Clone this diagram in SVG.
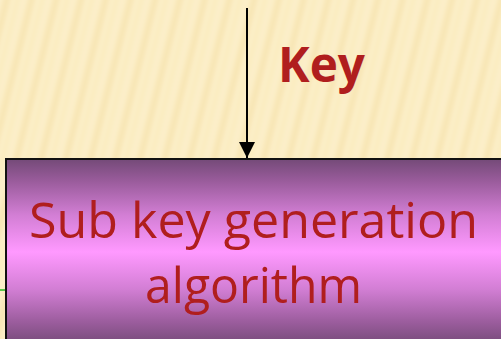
<svg xmlns="http://www.w3.org/2000/svg" width="501" height="339" viewBox="0 0 501 339">
  <style>
    .label { font-family: "Open Sans", "DejaVu Sans", sans-serif; fill: #b01e1e; }
    .key { font-weight: bold; font-size: 48px; }
    .body { font-size: 50px; }
  </style>
  <defs>
    <!-- parchment streaks -->
    <pattern id="paper" width="24" height="400" patternUnits="userSpaceOnUse" patternTransform="rotate(14)">
      <rect width="24" height="400" fill="#fcefc9"/>
      <rect x="3" width="7" height="400" fill="#f6e3ae" opacity="0.75"/>
      <rect x="15" width="4" height="400" fill="#f8e7b8" opacity="0.6"/>
    </pattern>
    <filter id="soft" x="0" y="0" width="1" height="1">
      <feGaussianBlur stdDeviation="2.2"/>
    </filter>
    <linearGradient id="boxFill" x1="0" y1="159" x2="0" y2="345" gradientUnits="userSpaceOnUse">
      <stop offset="0" stop-color="#744a78"/>
      <stop offset="0.12" stop-color="#9a5c9c"/>
      <stop offset="0.3" stop-color="#d27ed4"/>
      <stop offset="0.5" stop-color="#ff99ff"/>
      <stop offset="0.7" stop-color="#d27ed4"/>
      <stop offset="0.88" stop-color="#9a5c9c"/>
      <stop offset="1" stop-color="#744a78"/>
    </linearGradient>
    <marker id="head" markerWidth="16" markerHeight="16" refX="16" refY="8" orient="auto" markerUnits="userSpaceOnUse">
      <path d="M0,0 L16,8 L0,16 Z" fill="#000"/>
    </marker>
  </defs>

  <rect width="501" height="339" fill="#fbedc6"/>
  <rect x="-10" y="-10" width="521" height="359" fill="url(#paper)" filter="url(#soft)"/>

  <g id="connectors">
    <line x1="247" y1="8" x2="247" y2="158" stroke="#000" stroke-width="2" marker-end="url(#head)"/>
    <line x1="0" y1="290" x2="6" y2="290" stroke="#22bb22" stroke-width="1.5"/>
  </g>

  <g id="key-label">
    <text class="label key" x="278" y="82" textLength="87" lengthAdjust="spacingAndGlyphs">Key</text>
  </g>

  <g id="subkey-generation">
    <rect x="6" y="159" width="496" height="182" fill="url(#boxFill)" stroke="#111" stroke-width="2"/>
    <text class="label body" x="29" y="238" textLength="449" lengthAdjust="spacingAndGlyphs">Sub key generation</text>
    <text class="label body" x="145" y="303" textLength="217" lengthAdjust="spacingAndGlyphs">algorithm</text>
  </g>
</svg>
